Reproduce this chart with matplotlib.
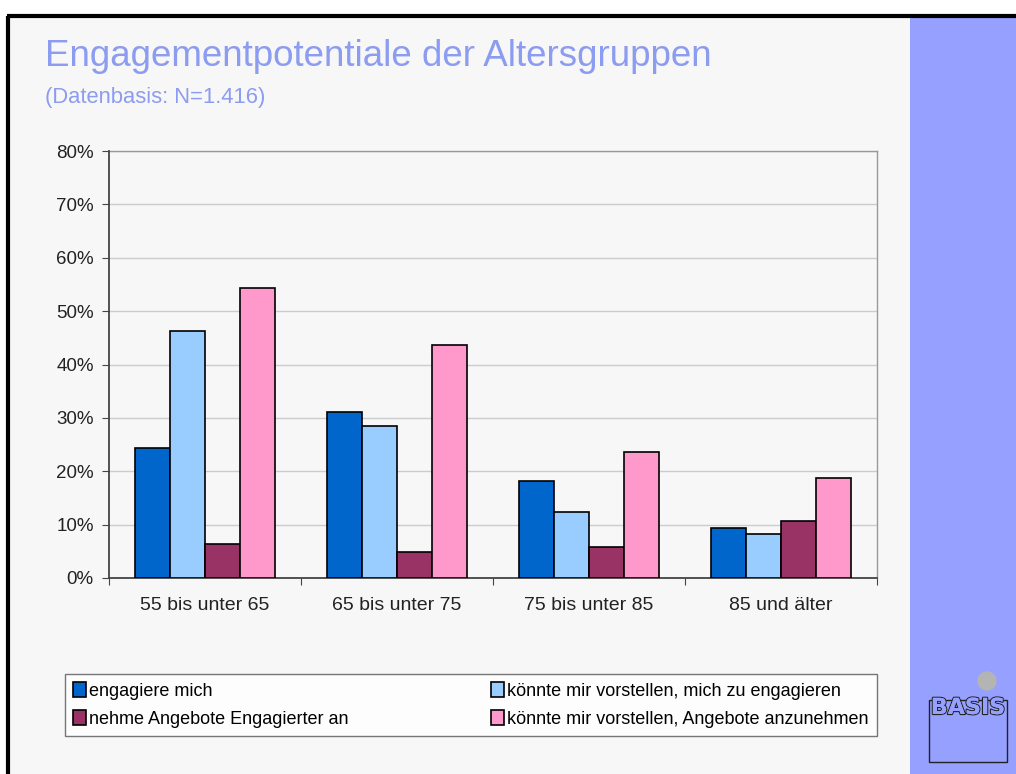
import matplotlib.pyplot as plt
import matplotlib.patheffects as pe
import numpy as np
from matplotlib.patches import Rectangle

plt.rcParams['font.family'] = ['Liberation Sans', 'DejaVu Sans']

groups = ['55 bis unter 65', '65 bis unter 75', '75 bis unter 85', '85 und älter']
series_names = ['engagiere mich',
                'könnte mir vorstellen, mich zu engagieren',
                'nehme Angebote Engagierter an',
                'könnte mir vorstellen, Angebote anzunehmen']
engagiere = [24.3, 31.1, 18.2, 9.4]
vorstellen_eng = [46.3, 28.5, 12.4, 8.2]
nehme_an = [6.4, 4.9, 5.8, 10.7]
vorstellen_ang = [54.3, 43.6, 23.6, 18.7]
colors = ['#0066cc', '#99ccff', '#993366', '#ff99cc']

W, H = 1016, 774
fig = plt.figure(figsize=(W / 100, H / 100), dpi=100)
fig.patch.set_facecolor('white')

# slide background, frame and right-hand panel
bg = fig.add_axes([0, 0, 1, 1])
bg.set_xlim(0, W)
bg.set_ylim(H, 0)
bg.axis('off')
bg.add_patch(Rectangle((8, 16), W, H, facecolor='#f7f7f7', edgecolor='none'))
bg.plot([8, 8], [16, H], color='black', lw=3, solid_capstyle='butt')
bg.plot([7, W], [16, 16], color='black', lw=3, solid_capstyle='butt')
bg.add_patch(Rectangle((910, 17), W - 910, H, facecolor='#96a0ff', edgecolor='none'))

# logo
bg.add_patch(plt.Circle((987, 681), 9, color='#b4b4b4'))
bg.add_patch(Rectangle((929, 700), 78, 62, facecolor='none', edgecolor='#222222', lw=1))
bg.text(968, 708, 'BASIS', ha='center', va='center', fontsize=16, color='#96a0ff',
        family='DejaVu Sans Condensed', fontweight='bold',
        path_effects=[pe.withStroke(linewidth=1.6, foreground='#222222'),
                      pe.Normal()])

fig.text(45 / W, 1 - 56 / H, 'Engagementpotentiale der Altersgruppen', fontsize=26.5,
         color='#8c9cf0', va='center', ha='left')
fig.text(45 / W, 1 - 97 / H, '(Datenbasis: N=1.416)', fontsize=15.8,
         color='#8c9cf0', va='center', ha='left')

ax = fig.add_axes([109 / W, 1 - 578 / H, (877 - 109) / W, (578 - 151) / H])
ax.set_facecolor('#f7f7f7')
x = np.arange(len(groups))
bw = 0.183
data = [engagiere, vorstellen_eng, nehme_an, vorstellen_ang]
for i, (vals, c, name) in enumerate(zip(data, colors, series_names)):
    ax.bar(x + (i - 1.5) * bw, vals, bw, color=c, edgecolor='black', linewidth=1.2,
           label=name, zorder=3)

ax.set_xlim(-0.5, len(groups) - 0.5)
ax.set_ylim(0, 80)
ax.set_yticks(range(0, 81, 10))
ax.set_yticklabels([f'{v}%' for v in range(0, 81, 10)], fontsize=13.5, color='#222222')
ax.yaxis.grid(True, color='#cccccc', lw=1, zorder=0)
ax.set_xticks(np.arange(-0.5, len(groups), 1))
ax.set_xticklabels([])
ax.set_xticks(x, minor=True)
ax.set_xticklabels(groups, minor=True, fontsize=14, color='#222222')
ax.tick_params(axis='x', which='minor', length=0, pad=14)
ax.tick_params(axis='x', which='major', length=5, color='#444444', direction='out')
ax.tick_params(axis='y', length=5, color='#444444', direction='out', pad=6)
for s in ['left', 'bottom']:
    ax.spines[s].set_color('#444444')
    ax.spines[s].set_linewidth(1.3)
ax.spines['top'].set_visible(False)
ax.spines['right'].set_visible(False)
ax.plot([1, 1], [0, 1], transform=ax.transAxes, color='#999999', lw=1, clip_on=False)
ax.plot([0, 1], [1, 1], transform=ax.transAxes, color='#999999', lw=1, clip_on=False)

handles, labels = ax.get_legend_handles_labels()
order = [0, 2, 1, 3]
leg = fig.legend([handles[i] for i in order], [labels[i] for i in order],
                 loc='center', bbox_to_anchor=(65 / W, 1 - 738 / H, (877 - 65) / W, (738 - 672) / H),
                 mode='expand', ncol=2, fontsize=13, frameon=True, fancybox=False,
                 handlelength=0.7, handleheight=0.9, handletextpad=0.2,
                 borderaxespad=0, borderpad=0.45, labelspacing=0.6, columnspacing=0.3)
leg.get_frame().set_edgecolor('#555555')
leg.get_frame().set_facecolor('white')
leg.get_frame().set_linewidth(1)

fig.savefig('out.png', dpi=100)
